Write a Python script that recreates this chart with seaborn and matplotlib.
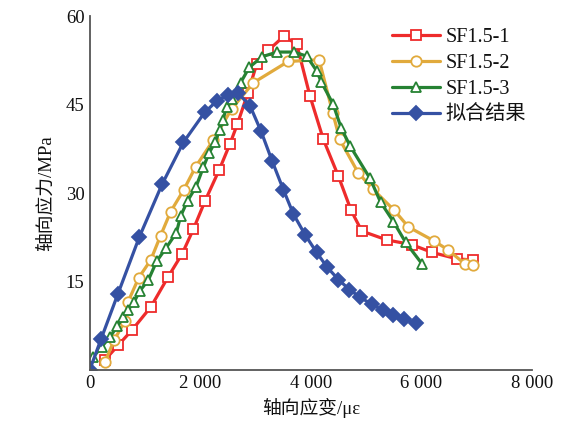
import matplotlib
matplotlib.use("Agg")
import matplotlib.pyplot as plt
import seaborn as sns
import pandas as pd
from matplotlib.ticker import FuncFormatter

sns.set_style("white")
FAM = ['Liberation Serif', 'Noto Sans CJK SC', 'DejaVu Sans']
plt.rcParams['font.family'] = FAM

# ---- data ----
s1_x = [280, 521, 774, 1112, 1425, 1678, 1877, 2089, 2347, 2541, 2673, 2860, 3024, 3233,
        3517, 3747, 3987, 4228, 4499, 4729, 4922, 5374, 5826, 6188, 6640, 6929]
s1_y = [1.8, 4.3, 6.9, 10.8, 15.9, 19.8, 23.9, 28.7, 34.0, 38.4, 41.7, 46.9, 51.9, 54.2,
        56.6, 55.2, 46.4, 39.1, 32.9, 27.1, 23.6, 22.1, 21.3, 20.0, 18.9, 18.7]

s2_x = [282, 443, 642, 696, 890, 1107, 1284, 1468, 1705, 1920, 2239, 2571, 2962, 3590,
        4150, 4398, 4524, 4855, 5123, 5510, 5765, 6233, 6483, 6790, 6940]
s2_y = [1.5, 5.1, 8.4, 11.6, 15.7, 18.7, 22.8, 26.9, 30.6, 34.5, 39.0, 44.3, 48.7, 52.3,
        52.6, 43.6, 39.1, 33.5, 30.7, 27.1, 24.3, 21.9, 20.4, 18.0, 17.8]

s3_x = [69, 220, 371, 503, 611, 702, 805, 913, 1063, 1215, 1389, 1570, 1646, 1772, 1926,
        2058, 2161, 2275, 2351, 2410, 2481, 2568, 2731, 2888, 3119, 3391, 3698, 3928,
        4108, 4192, 4403, 4552, 4711, 5072, 5262, 5494, 5714, 6007]
s3_y = [2.3, 4.0, 5.7, 7.5, 9.0, 10.3, 11.6, 13.5, 15.3, 18.5, 20.8, 23.3, 26.1, 28.7, 31.1,
        34.4, 36.8, 38.7, 40.7, 42.4, 44.6, 45.9, 48.7, 51.3, 53.1, 53.9, 53.9, 53.2,
        50.7, 48.8, 45.1, 41.0, 38.0, 32.5, 28.5, 25.2, 21.7, 18.1]

fit_x = [0, 208, 515, 901, 1311, 1696, 2083, 2300, 2505, 2691, 2902, 3101, 3300, 3505,
         3685, 3902, 4105, 4295, 4499, 4698, 4892, 5103, 5302, 5494, 5693, 5899]
fit_y = [0.0, 5.3, 13.0, 22.6, 31.5, 38.6, 43.7, 45.6, 46.7, 46.9, 44.8, 40.5, 35.5, 30.6,
         26.5, 22.9, 20.0, 17.5, 15.4, 13.7, 12.4, 11.2, 10.2, 9.4, 8.7, 8.0]

labels = ["SF1.5-1", "SF1.5-2", "SF1.5-3", "拟合结果"]
x_ticks = [0, 2000, 4000, 6000, 8000]
y_ticks = [15, 30, 45, 60]

series = [
    (labels[0], s1_x, s1_y, "#ee2b2b", "s", "white", 7),
    (labels[1], s2_x, s2_y, "#e1aa3c", "o", "white", 7.5),
    (labels[2], s3_x, s3_y, "#268233", "^", "white", 7.5),
    (labels[3], fit_x, fit_y, "#3551a3", "D", None, 7),
]

fig = plt.figure(figsize=(5.64, 4.29), dpi=100)
ax = fig.add_axes([0.1587, 0.1364, 0.9433 - 0.1587, 0.9627 - 0.1364])

for name, xs, ys, col, mk, mfc, ms in series:
    df = pd.DataFrame({"x": xs, "y": ys})
    kw = dict(marker=mk, markersize=ms, markeredgewidth=1.3,
              markeredgecolor=col, markerfacecolor=(mfc if mfc else col))
    sns.lineplot(data=df, x="x", y="y", ax=ax, color=col, linewidth=2.3,
                 sort=False, estimator=None, label=name, **kw)

ax.set_xlim(0, 8000)
ax.set_ylim(0, 60)
ax.set_xticks(x_ticks)
ax.set_yticks(y_ticks)
ax.xaxis.set_major_formatter(FuncFormatter(lambda v, p: f"{int(v):,}".replace(",", " ")))
ax.tick_params(direction="in", length=5, width=1.0, colors="#333333",
               labelsize=13.5, labelcolor="#111111")
for sp in ["top", "right"]:
    ax.spines[sp].set_visible(False)
for sp in ["left", "bottom"]:
    ax.spines[sp].set_color("#555555")
    ax.spines[sp].set_linewidth(1.3)

ax.set_xlabel("轴向应变/με", fontsize=13.5, family=FAM, labelpad=4, color="#111111")
ax.set_ylabel("轴向应力/MPa", fontsize=13.5, family=FAM, labelpad=8, color="#111111")

leg = ax.legend(loc="upper left", bbox_to_anchor=(0.665, 0.99), frameon=False,
                fontsize=14.5, handlelength=2.4, handletextpad=0.25,
                labelspacing=0.35, borderaxespad=0)
for t in leg.get_texts():
    t.set_color("#111111")

fig.savefig("out.png", dpi=100)
